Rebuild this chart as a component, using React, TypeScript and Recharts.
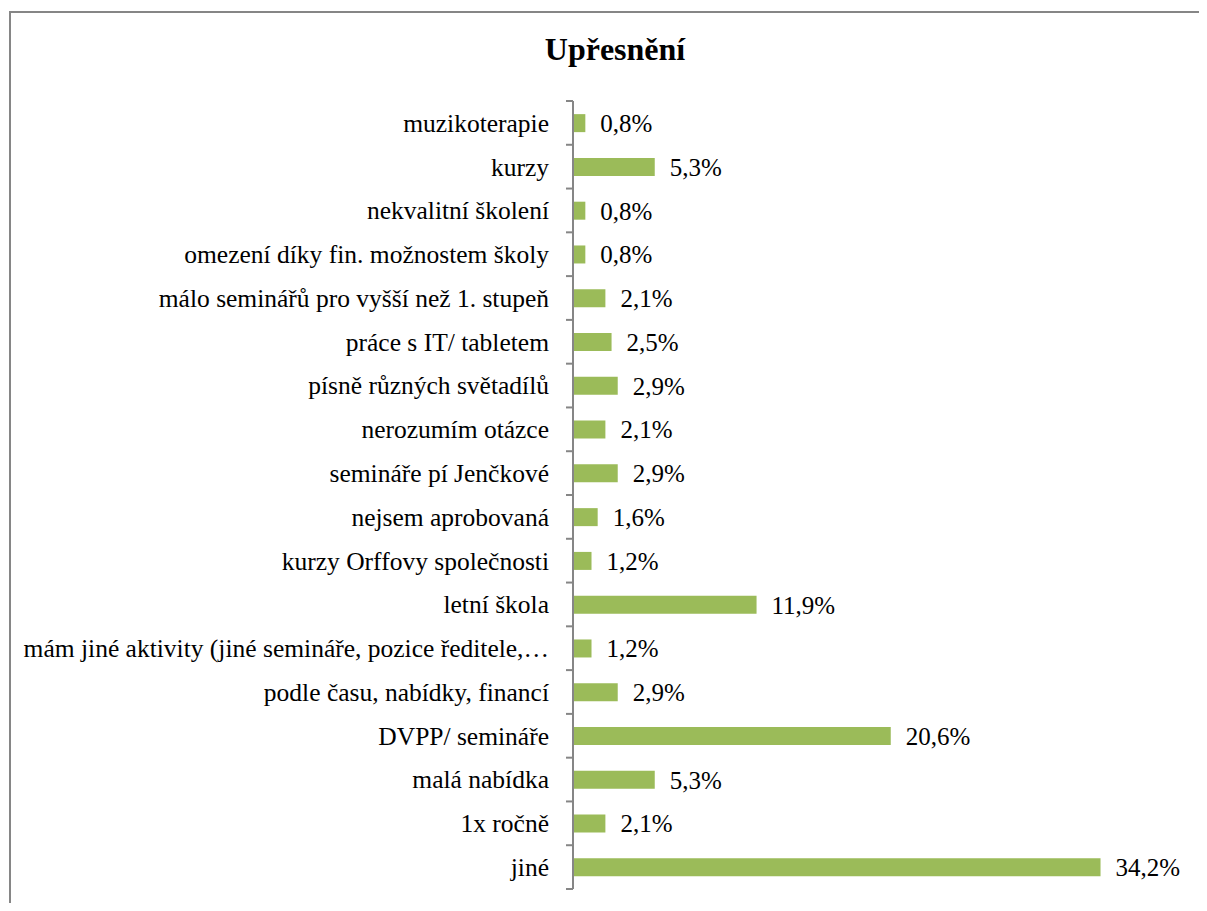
import React from 'react';
import { BarChart, Bar, XAxis, YAxis, LabelList } from 'recharts';

const categories = [
  'muzikoterapie',
  'kurzy',
  'nekvalitní školení',
  'omezení díky fin. možnostem školy',
  'málo seminářů pro vyšší než 1. stupeň',
  'práce s IT/ tabletem',
  'písně různých světadílů',
  'nerozumím otázce',
  'semináře pí Jenčkové',
  'nejsem aprobovaná',
  'kurzy Orffovy společnosti',
  'letní škola',
  'mám jiné aktivity (jiné semináře, pozice ředitele,…',
  'podle času, nabídky, financí',
  'DVPP/ semináře',
  'malá nabídka',
  '1x ročně',
  'jiné',
];

const values = [0.8, 5.3, 0.8, 0.8, 2.1, 2.5, 2.9, 2.1, 2.9, 1.6, 1.2, 11.9, 1.2, 2.9, 20.6, 5.3, 2.1, 34.2];

const title = 'Upřesnění';

const data = categories.map((name, i) => ({ name, value: values[i] }));

const FONT = '"Liberation Serif", "Times New Roman", Times, serif';
const AXIS_COLOR = '#868686';
const BAR_COLOR = '#9BBB59';

const CategoryTick = (props: any) => {
  const { x, y, payload, index } = props;
  const off = payload && typeof payload.offset === 'number' ? payload.offset : 0;
  const isLast = index === categories.length - 1;
  return (
    <g>
      <line x1={x - 7} x2={x} y1={y - off} y2={y - off} stroke={AXIS_COLOR} strokeWidth={2} />
      {isLast && (
        <line x1={x - 7} x2={x} y1={y + off} y2={y + off} stroke={AXIS_COLOR} strokeWidth={2} />
      )}
      <text
        x={x - 24}
        y={y}
        dy="0.35em"
        textAnchor="end"
        style={{ fontFamily: FONT, fontSize: 25.5, fill: '#000' }}
      >
        {payload.value}
      </text>
    </g>
  );
};

const fmt = (v: any) => Number(v).toFixed(1).replace('.', ',') + '%';

export default function App() {
  return (
    <div style={{ position: 'relative', width: 1191, height: 895 }}>
      <div
        style={{
          position: 'absolute',
          left: 1,
          top: 3,
          width: 1196,
          height: 896,
          borderTop: `2px solid ${AXIS_COLOR}`,
          borderLeft: `2px solid ${AXIS_COLOR}`,
          pointerEvents: 'none',
        }}
      />
      <div
        style={{
          position: 'absolute',
          left: 607,
          top: 25,
          transform: 'translateX(-50%)',
          fontFamily: FONT,
          fontWeight: 'bold',
          fontSize: 32,
          lineHeight: '32px',
          whiteSpace: 'nowrap',
          color: '#000',
        }}
      >
        {title}
      </div>
      <BarChart
        width={1191}
        height={895}
        data={data}
        layout="vertical"
        margin={{ top: 93, right: 9, bottom: 14, left: 0 }}
        barCategoryGap="30%"
      >
        <XAxis type="number" domain={[0, 40]} hide />
        <YAxis
          type="category"
          dataKey="name"
          width={565}
          axisLine={{ stroke: AXIS_COLOR, strokeWidth: 2 }}
          tickLine={false}
          tickSize={0}
          tickMargin={0}
          interval={0}
          tick={<CategoryTick />}
        />
        <Bar dataKey="value" fill={BAR_COLOR} isAnimationActive={false}>
          <LabelList
            dataKey="value"
            position="right"
            offset={15}
            formatter={fmt}
            style={{ fontFamily: FONT, fontSize: 25, fill: '#000' }}
          />
        </Bar>
      </BarChart>
    </div>
  );
}
